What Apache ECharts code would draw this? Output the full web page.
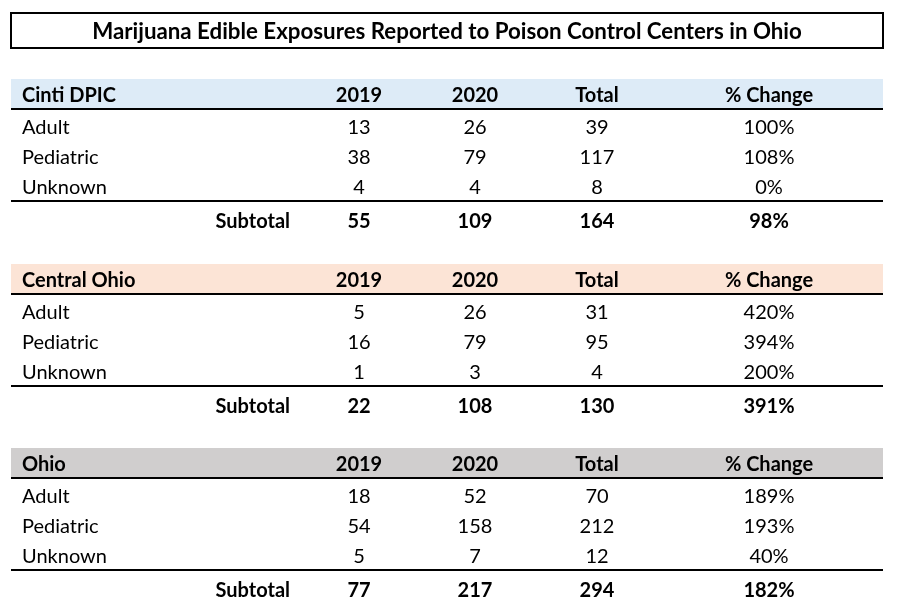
<!DOCTYPE html>
<html><head><meta charset="utf-8">
<script src="https://cdn.jsdelivr.net/npm/echarts@6/dist/echarts.min.js"></script>
<style>html,body{margin:0;padding:0;background:#fff}#c{width:903px;height:605px}</style>
</head><body><div id="c"></div>
<script>
const title = 'Marijuana Edible Exposures Reported to Poison Control Centers in Ohio';
const columns = ['2019', '2020', 'Total', '% Change'];
const rowLabels = ['Adult', 'Pediatric', 'Unknown'];
const sections = ['Cinti DPIC', 'Central Ohio', 'Ohio'];
const sectionColors = ['#DDEBF7', '#FCE4D6', '#D0CECE'];
const cintiValues = [[13, 26, 39, '100%'], [38, 79, 117, '108%'], [4, 4, 8, '0%']];
const cintiSubtotal = [55, 109, 164, '98%'];
const centralValues = [[5, 26, 31, '420%'], [16, 79, 95, '394%'], [1, 3, 4, '200%']];
const centralSubtotal = [22, 108, 130, '391%'];
const ohioValues = [[18, 52, 70, '189%'], [54, 158, 212, '193%'], [5, 7, 12, '40%']];
const ohioSubtotal = [77, 217, 294, '182%'];
const subtotalLabel = 'Subtotal';

const sectionData = [
  {values: cintiValues, subtotal: cintiSubtotal},
  {values: centralValues, subtotal: centralSubtotal},
  {values: ohioValues, subtotal: ohioSubtotal}
];

// layout
const L = {left: 11, right: 883, labelX: 22, subtotalRight: 290,
  colX: [359, 475, 597, 769], sectionTop: [79, 264, 448], headerH: 30, headerTextOff: 17,
  firstRowOff: 48.5, rowH: 30, subLineOff: 122, subOff: 142.5};
const FONT = 'Lato, "Open Sans", sans-serif';
const FS = 20;

const g = [];
g.push({type: 'rect', shape: {x: L.left, y: 13, width: L.right - L.left, height: 35},
  style: {fill: '#fff', stroke: '#000', lineWidth: 2}});
g.push({type: 'text', x: 447, y: 31.5, style: {text: title, fontFamily: FONT, fontWeight: 'bold',
  fontSize: 22.3, fill: '#000', textAlign: 'center', textVerticalAlign: 'middle'}});

function txt(x, y, s, align, bold) {
  g.push({type: 'text', x: x, y: y, style: {text: String(s), fontFamily: FONT, fontSize: FS,
    fontWeight: bold ? 'bold' : 'normal', fill: '#000', textAlign: align, textVerticalAlign: 'middle'}});
}
function hline(y) {
  g.push({type: 'line', shape: {x1: L.left, y1: y, x2: L.right, y2: y}, style: {stroke: '#000', lineWidth: 2}});
}

sections.forEach((name, si) => {
  const top = L.sectionTop[si];
  g.push({type: 'rect', shape: {x: L.left, y: top, width: L.right - L.left, height: L.headerH},
    style: {fill: sectionColors[si]}});
  hline(top + L.headerH);
  const hy = top + L.headerTextOff;
  txt(L.labelX, hy, name, 'left', true);
  columns.forEach((c, ci) => txt(L.colX[ci], hy, c, 'center', true));
  const d = sectionData[si];
  rowLabels.forEach((r, ri) => {
    const y = top + L.firstRowOff + ri * L.rowH;
    txt(L.labelX, y, r, 'left', false);
    d.values[ri].forEach((v, ci) => txt(L.colX[ci], y, v, 'center', false));
  });
  hline(top + L.subLineOff);
  const sy = top + L.subOff;
  txt(L.subtotalRight, sy, subtotalLabel, 'right', true);
  d.subtotal.forEach((v, ci) => txt(L.colX[ci], sy, v, 'center', true));
});

const chart = echarts.init(document.getElementById('c'), null, {renderer: 'canvas'});
chart.setOption({animation: false, backgroundColor: '#fff', graphic: {elements: g}});
</script>
</body></html>
